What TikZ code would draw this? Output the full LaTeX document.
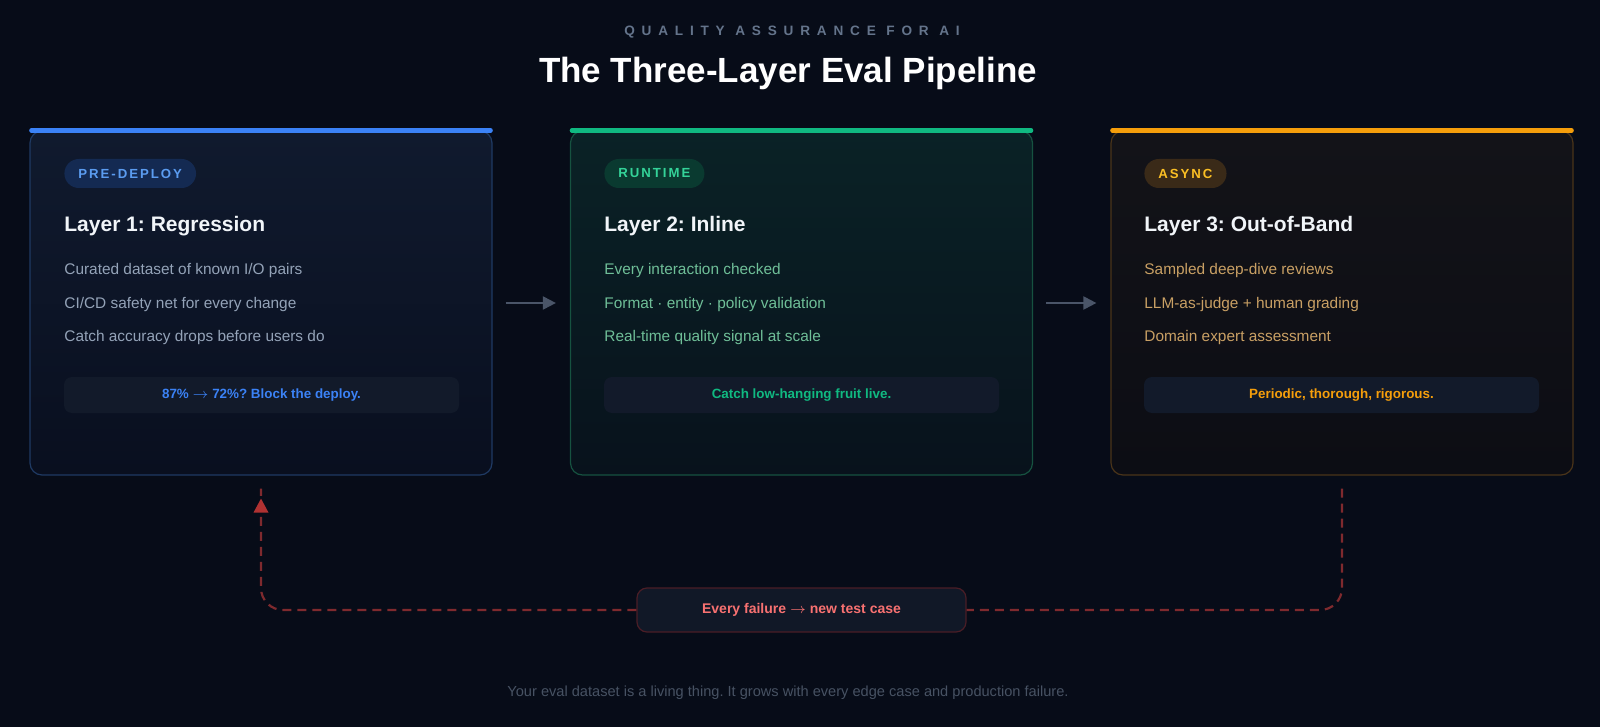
\documentclass[tikz,border=0pt]{standalone}
\usepackage{fontspec}
\setmainfont{Liberation Sans}
\newfontfamily\capsfont[LetterSpace=50]{Liberation Sans}
\newfontfamily\pillfont[LetterSpace=15]{Liberation Sans}
\newcommand{\rarr}{\ensuremath{\rightarrow}}
\usetikzlibrary{arrows.meta}
\definecolor{bg}{HTML}{070C18}
\definecolor{cAtop}{HTML}{101A2E}
\definecolor{cAbot}{HTML}{090F1F}
\definecolor{cAbrd}{HTML}{1F3A63}
\definecolor{cBtop}{HTML}{0A2226}
\definecolor{cBbot}{HTML}{08121C}
\definecolor{cBbrd}{HTML}{165240}
\definecolor{cCtop}{HTML}{131318}
\definecolor{cCbot}{HTML}{0C0D14}
\definecolor{cCbrd}{HTML}{4A3419}
\definecolor{blueA}{HTML}{3B82F6}
\definecolor{greenA}{HTML}{10B981}
\definecolor{amberA}{HTML}{F59E0B}
\definecolor{pillAf}{HTML}{142A52}
\definecolor{pillAt}{HTML}{5B9CF0}
\definecolor{pillBf}{HTML}{0A3A30}
\definecolor{pillBt}{HTML}{34D399}
\definecolor{pillCf}{HTML}{3A2A18}
\definecolor{pillCt}{HTML}{FBBF24}
\definecolor{bulA}{HTML}{94A3B8}
\definecolor{bulB}{HTML}{6FBF98}
\definecolor{bulC}{HTML}{C9A064}
\definecolor{boxfill}{HTML}{121A2A}
\definecolor{titlec}{HTML}{F1F5F9}
\definecolor{subc}{HTML}{64748B}
\definecolor{arrowc}{HTML}{4A5568}
\definecolor{loopc}{HTML}{7F2A2E}
\definecolor{looptip}{HTML}{B03232}
\definecolor{lblfill}{HTML}{111827}
\definecolor{lblbrd}{HTML}{4A1D26}
\definecolor{lbltext}{HTML}{F87171}
\definecolor{footc}{HTML}{475263}
\frenchspacing
\begin{document}
\begin{tikzpicture}[x=0.5pt,y=-0.5pt,
  card/.style={rounded corners=6pt, minimum width=231pt, minimum height=172pt, inner sep=0pt, line width=0.6pt},
  topbar/.style={line width=2.2pt, line cap=round},
  pill/.style={rounded corners=7.25pt, minimum height=14.5pt, inner xsep=7pt, inner ysep=0pt, anchor=west, font=\pillfont\bfseries\fontsize{6.6pt}{7pt}\selectfont},
  ltitle/.style={anchor=base west, inner sep=0pt, text=titlec, font=\bfseries\fontsize{10.5pt}{12pt}\selectfont},
  bullet/.style={anchor=base west, inner sep=0pt, font=\fontsize{7.7pt}{9pt}\selectfont},
  note/.style={rounded corners=4pt, minimum width=197.5pt, minimum height=18pt, inner sep=0pt, fill=boxfill, font=\bfseries\fontsize{6.7pt}{8pt}\selectfont},
  flow/.style={arrowc, line width=1pt, -{Triangle[length=6.5pt,width=6.5pt]}, shorten <=6.5pt, shorten >=7pt},
  loop/.style={loopc, line width=1.1pt, dash pattern=on 4.5pt off 3pt, rounded corners=11pt}
]
% background
\fill[bg] (0,0) rectangle (1600,727);
\useasboundingbox (0,0) rectangle (1600,727);

% header
\node[inner sep=0pt, anchor=base, text=subc, font=\capsfont\bfseries\fontsize{6.8pt}{8pt}\selectfont] (kicker) at (792,36) {QUALITY ASSURANCE FOR AI};
\node[inner sep=0pt, anchor=base, text=white, font=\bfseries\fontsize{17.5pt}{20pt}\selectfont] (head) at (788,83) {The Three-Layer Eval Pipeline};

% cards
\node[card, draw=cAbrd, top color=cAtop, bottom color=cAbot] (c1) at (261,303) {};
\node[card, draw=cBbrd, top color=cBtop, bottom color=cBbot] (c2) at (801.5,303) {};
\node[card, draw=cCbrd, top color=cCtop, bottom color=cCbot] (c3) at (1342,303) {};
\draw[topbar, blueA] ([xshift=1pt]c1.north west) -- ([xshift=-1pt]c1.north east);
\draw[topbar, greenA] ([xshift=1pt]c2.north west) -- ([xshift=-1pt]c2.north east);
\draw[topbar, amberA] ([xshift=1pt]c3.north west) -- ([xshift=-1pt]c3.north east);

% card 1
\node[pill, fill=pillAf, text=pillAt] (p1) at (64,173.5) {PRE-DEPLOY};
\node[ltitle] (t1) at (64,232) {Layer 1: Regression};
\node[bullet, text=bulA] (b11) at (64,275) {Curated dataset of known I/O pairs};
\node[bullet, text=bulA] (b12) at (64,308) {CI/CD safety net for every change};
\node[bullet, text=bulA] (b13) at (64,341) {Catch accuracy drops before users do};
\node[note, text=blueA] (n1) at (261.5,395) {87\% \rarr{} 72\%? Block the deploy.};

% card 2
\node[pill, fill=pillBf, text=pillBt] (p2) at (604,173.5) {RUNTIME};
\node[ltitle] (t2) at (604,232) {Layer 2: Inline};
\node[bullet, text=bulB] (b21) at (604,275) {Every interaction checked};
\node[bullet, text=bulB] (b22) at (604,308) {Format · entity · policy validation};
\node[bullet, text=bulB] (b23) at (604,341) {Real-time quality signal at scale};
\node[note, text=greenA] (n2) at (801.5,395) {Catch low-hanging fruit live.};

% card 3
\node[pill, fill=pillCf, text=pillCt] (p3) at (1144,173.5) {ASYNC};
\node[ltitle] (t3) at (1144,232) {Layer 3: Out-of-Band};
\node[bullet, text=bulC] (b31) at (1144,275) {Sampled deep-dive reviews};
\node[bullet, text=bulC] (b32) at (1144,308) {LLM-as-judge + human grading};
\node[bullet, text=bulC] (b33) at (1144,341) {Domain expert assessment};
\node[note, text=amberA] (n3) at (1341.5,395) {Periodic, thorough, rigorous.};

% flow arrows
\draw[flow] (c1.east) -- (c2.west);
\draw[flow] (c2.east) -- (c3.west);

% feedback loop
\node[rounded corners=5pt, minimum width=164.5pt, minimum height=22pt, inner sep=0pt, fill=lblfill, draw=lblbrd, line width=0.6pt, text=lbltext, font=\bfseries\fontsize{7pt}{8pt}\selectfont] (lbl) at (801.5,610) {\raisebox{-1.5pt}{Every failure \rarr{} new test case}};
\coordinate (rtop) at ([yshift=-6.5pt]c3.south);
\coordinate (ltop) at ([yshift=-6.5pt]c1.south);
\coordinate (ltip) at ([yshift=-11.5pt]c1.south);
\coordinate (lbase) at ([yshift=-18.5pt]c1.south);
\draw[loop] (rtop) |- (lbl.east);
\draw[loop] (lbl.west) -| (ltop);
\fill[looptip] (ltip) -- ([xshift=-3.75pt]lbase) -- ([xshift=3.75pt]lbase) -- cycle;

% footer
\node[inner sep=0pt, anchor=base, text=footc, font=\fontsize{7.3pt}{9pt}\selectfont] (foot) at (788,696) {Your eval dataset is a living thing. It grows with every edge case and production failure.};
\end{tikzpicture}
\end{document}
